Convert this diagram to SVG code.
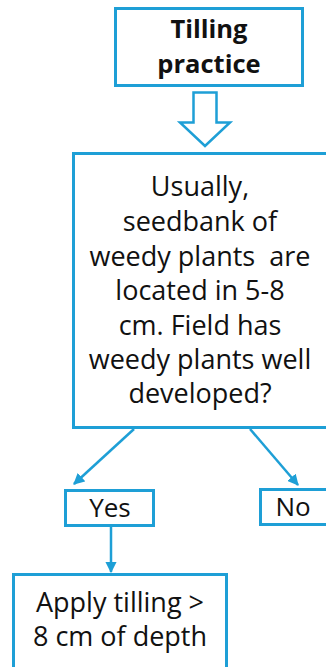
<svg xmlns="http://www.w3.org/2000/svg" width="326" height="667" viewBox="0 0 326 667">
<style>
.box{fill:#fff;stroke:#1e9fd6;stroke-width:3}
.ln{stroke:#1e9fd6;stroke-width:2.5;fill:none}
.t{font-family:"Open Sans","Liberation Sans",Arial,sans-serif;font-size:27px;fill:#111;text-anchor:middle}
.b{font-weight:bold;font-size:25.5px}
.s{font-size:26px}
</style>
<defs>
<marker id="ah" viewBox="0 0 10 10" refX="9" refY="5" markerWidth="4.5" markerHeight="4.5" orient="auto" markerUnits="strokeWidth">
<path d="M0,0 L10,5 L0,10 z" fill="#1e9fd6"/>
</marker>
</defs>
<rect width="326" height="667" fill="#fff"/>
<g id="connectors">
<path class="ln" d="M193.5,92.5 H216.5 V122.5 H230 L205,146 L180,122.5 H193.5 Z" stroke-linejoin="miter"/>
<line class="ln" x1="134" y1="429" x2="74" y2="484" marker-end="url(#ah)"/>
<line class="ln" x1="250" y1="429" x2="298" y2="485" marker-end="url(#ah)"/>
<line class="ln" x1="111" y1="527" x2="111" y2="572" marker-end="url(#ah)"/>
</g>
<g id="title">
<rect class="box" x="115.5" y="8.5" width="187" height="77"/>
<text class="t b" x="209" y="38">Tilling</text>
<text class="t b" x="209" y="73">practice</text>
</g>
<g id="question">
<rect class="box" x="73.5" y="153.5" width="300" height="274"/>
<text class="t" x="200" y="196">Usually,</text>
<text class="t" x="200" y="231">seedbank of</text>
<text class="t" x="200" y="266" xml:space="preserve">weedy plants  are</text>
<text class="t" x="200" y="300">located in 5-8</text>
<text class="t" x="200" y="335">cm. Field has</text>
<text class="t" x="200" y="369">weedy plants well</text>
<text class="t" x="200" y="403">developed?</text>
</g>
<g id="yes">
<rect class="box" x="65.5" y="490.5" width="88" height="35"/>
<text class="t s" x="110" y="517">Yes</text>
</g>
<g id="no">
<rect class="box" x="260.5" y="489.5" width="100" height="35"/>
<text class="t s" x="293" y="516">No</text>
</g>
<g id="apply">
<rect class="box" x="13.5" y="574.5" width="213" height="100"/>
<text class="t" x="120" y="612">Apply tilling &gt;</text>
<text class="t" x="120" y="646">8 cm of depth</text>
</g>
</svg>
